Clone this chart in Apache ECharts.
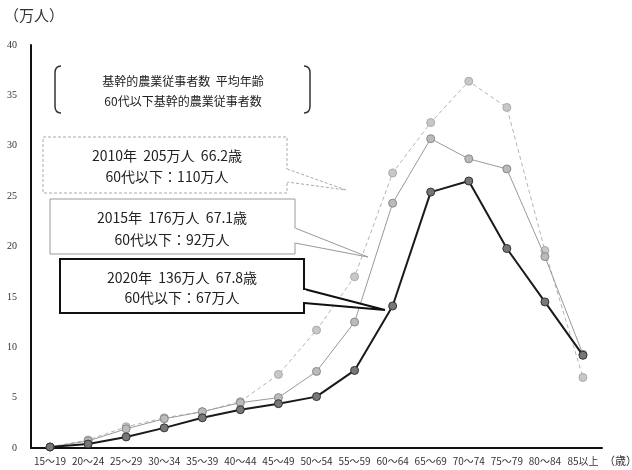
<!DOCTYPE html>
<html>
<head>
<meta charset="utf-8">
<script src="https://cdn.jsdelivr.net/npm/echarts@6/dist/echarts.min.js"></script>
<style>
  html, body { margin: 0; padding: 0; background: #fff; }
  #chart { width: 632px; height: 470px; }
</style>
</head>
<body>
<div id="chart"></div>
<script>
// 年齢階層
var ages = ['15～19', '20～24', '25～29', '30～34', '35～39', '40～44', '45～49', '50～54',
  '55～59', '60～64', '65～69', '70～74', '75～79', '80～84', '85以上']
// 基幹的農業従事者数（万人）
var y2010 = [0.1, 0.8, 2.1, 3.0, 3.6, 4.6, 7.3, 11.7, 17.0, 27.3, 32.3, 36.4, 33.8, 19.6, 7.0]
var y2015 = [0.1, 0.7, 1.9, 2.9, 3.6, 4.5, 5.0, 7.6, 12.5, 24.3, 30.7, 28.7, 27.7, 19.0, 9.3]
var y2020 = [0.1, 0.4, 1.1, 2.0, 3.0, 3.8, 4.4, 5.1, 7.7, 14.1, 25.4, 26.5, 19.8, 14.5, 9.2]

var jp = '"Noto Sans CJK JP", sans-serif'
var bracketStyle = { fill: 'none', stroke: '#333', lineWidth: 1.5 }

function label(x, y, text, size) {
  return { type: 'text', x: x, y: y, z: 12,
    style: { text: text, fontSize: size, fill: '#222', fontFamily: jp, align: 'center', verticalAlign: 'middle' } }
}

// 吹き出し：枠 + 指し線 + 枠線の切れ目
function callout(x, y, w, h, y1, y2, tip, stroke, width, dash) {
  var st = { fill: '#fff', stroke: stroke, lineWidth: width }
  if (dash) st.lineDash = dash
  return [
    { type: 'rect', z: 9, shape: { x: x, y: y, width: w, height: h }, style: st },
    { type: 'polyline', z: 10, shape: { points: [[x + w, y1], tip, [x + w, y2]] }, style: st },
    { type: 'rect', z: 11, shape: { x: x + w - width, y: y1 + width / 2, width: width * 2, height: y2 - y1 - width },
      style: { fill: '#fff' } }
  ]
}

var chart = echarts.init(document.getElementById('chart'))
chart.setOption({
  backgroundColor: '#fff',
  animation: false,
  grid: { left: 31, right: 30, top: 45, bottom: 22 },
  xAxis: {
    type: 'category',
    data: ages,
    axisLine: { lineStyle: { color: '#111', width: 2 } },
    axisTick: { show: false },
    axisLabel: {
      interval: 0,
      margin: 8,
      color: '#333',
      fontSize: 10,
      fontFamily: '"Liberation Sans Narrow", ' + jp
    }
  },
  yAxis: {
    type: 'value',
    min: 0,
    max: 40,
    interval: 5,
    axisLine: { show: true, lineStyle: { color: '#111', width: 2 } },
    axisTick: { show: false },
    splitLine: { show: false },
    axisLabel: { margin: 14, color: '#333', fontSize: 10, fontFamily: 'Liberation Serif' }
  },
  series: [
    {
      name: '2010',
      type: 'line',
      data: y2010,
      symbol: 'circle',
      symbolSize: 8,
      lineStyle: { color: '#b4b4b4', width: 1, type: [4, 3] },
      itemStyle: { color: '#c8c8c8', borderColor: '#aaa', borderWidth: 1 },
      z: 2
    },
    {
      name: '2015',
      type: 'line',
      data: y2015,
      symbol: 'circle',
      symbolSize: 8,
      lineStyle: { color: '#999', width: 1 },
      itemStyle: { color: '#bbb', borderColor: '#888', borderWidth: 1 },
      z: 3
    },
    {
      name: '2020',
      type: 'line',
      data: y2020,
      symbol: 'circle',
      symbolSize: 8,
      lineStyle: { color: '#1a1a1a', width: 2 },
      itemStyle: { color: '#777', borderColor: '#333', borderWidth: 1 },
      z: 4
    }
  ],
  graphic: [
    { type: 'text', x: 4, y: 8, style: { text: '（万人）', fontSize: 15, fill: '#333', fontFamily: jp } },
    { type: 'text', x: 604, y: 455, style: { text: '（歳）', fontSize: 11, fill: '#333', fontFamily: jp } },
    // 見出しの括弧
    { type: 'bezierCurve', shape: { x1: 61, y1: 66, x2: 55, y2: 73, cpx1: 55, cpy1: 66 }, style: bracketStyle },
    { type: 'line', shape: { x1: 55, y1: 73, x2: 55, y2: 106 }, style: bracketStyle },
    { type: 'bezierCurve', shape: { x1: 55, y1: 106, x2: 61, y2: 113, cpx1: 55, cpy1: 113 }, style: bracketStyle },
    { type: 'bezierCurve', shape: { x1: 304, y1: 66, x2: 310, y2: 73, cpx1: 310, cpy1: 66 }, style: bracketStyle },
    { type: 'line', shape: { x1: 310, y1: 73, x2: 310, y2: 106 }, style: bracketStyle },
    { type: 'bezierCurve', shape: { x1: 310, y1: 106, x2: 304, y2: 113, cpx1: 310, cpy1: 113 }, style: bracketStyle },
    label(183, 81, '基幹的農業従事者数  平均年齢', 12),
    label(183, 101, '60代以下基幹的農業従事者数', 12)
  ]
    .concat(callout(43, 137, 244, 56, 169, 182, [346, 190], '#aaa', 1, [3, 2]))
    .concat([label(167, 156, '2010年  205万人  66.2歳', 14), label(167, 177, '60代以下：110万人', 14)])
    .concat(callout(50, 199, 245, 55, 228, 243, [368, 257], '#999', 1))
    .concat([label(172, 218, '2015年  176万人  67.1歳', 14), label(172, 240, '60代以下：92万人', 14)])
    .concat(callout(60, 259, 244, 54, 289, 303, [385, 310], '#111', 2))
    .concat([label(182, 278, '2020年  136万人  67.8歳', 14), label(182, 298, '60代以下：67万人', 14)])
})
</script>
</body>
</html>
